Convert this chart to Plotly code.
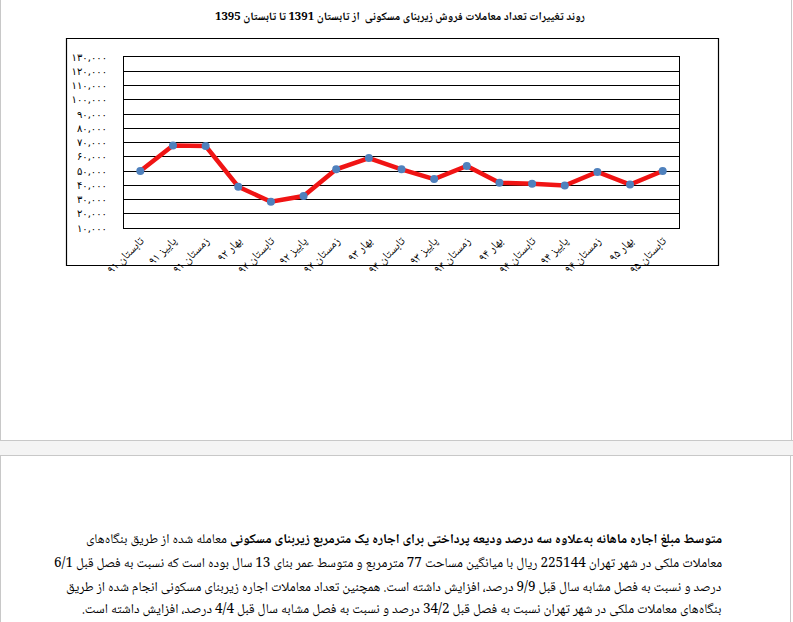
import plotly.graph_objects as go

# ---------------- data ----------------
categories = [
    "تابستان ۹۱", "پاییز ۹۱", "زمستان ۹۱", "بهار ۹۲", "تابستان ۹۲", "پاییز ۹۲",
    "زمستان ۹۲", "بهار ۹۳", "تابستان ۹۳", "پاییز ۹۳", "زمستان ۹۳", "بهار ۹۴",
    "تابستان ۹۴", "پاییز ۹۴", "زمستان ۹۴", "بهار ۹۵", "تابستان ۹۵",
]
transactions = [
    50000, 67900, 67500, 39000, 28400, 32400, 51200, 59100, 51200,
    44300, 53500, 41800, 41100, 39800, 49300, 40500, 50000,
]
y_ticks = [10000, 20000, 30000, 40000, 50000, 60000, 70000,
           80000, 90000, 100000, 110000, 120000, 130000]

title_text = "روند تغییرات تعداد معاملات فروش زیربنای مسکونی  از تابستان 1391 تا تابستان 1395"
paragraph_lines = [
    "<b>متوسط مبلغ اجاره ماهانه به‌علاوه سه درصد ودیعه پرداختی برای اجاره یک مترمربع زیربنای مسکونی</b> معامله شده از طریق بنگاه‌های",
    "معاملات ملکی در شهر تهران 225144 ریال با میانگین مساحت 77 مترمربع و متوسط عمر بنای 13 سال بوده است که نسبت به فصل قبل 6/1",
    "درصد و نسبت به فصل مشابه سال قبل 9/9 درصد، افزایش داشته است. همچنین تعداد معاملات اجاره زیربنای مسکونی انجام شده از طریق",
    "بنگاه‌های معاملات ملکی در شهر تهران نسبت به فصل قبل 34/2 درصد و نسبت به فصل مشابه سال قبل 4/4 درصد، افزایش داشته است.\u200f",
]

FA_DIGITS = str.maketrans("0123456789", "۰۱۲۳۴۵۶۷۸۹")


def fa_num(v):
    return f"{v:,}".translate(FA_DIGITS)


FONT = "Noto Naskh Arabic, Noto Sans Arabic, DejaVu Sans, sans-serif"
TICK_FONT = "DejaVu Sans, sans-serif"

# ---------------- layout geometry (pixels) ----------------
W, H = 793, 622
ML, MR, MT, MB = 124, 114, 57, 394
PW, PH = W - ML - MR, H - MT - MB


def px(xp):
    return (xp - ML) / PW


def py(yp):
    return (H - MB - yp) / PH


fig = go.Figure()
fig.add_trace(go.Scatter(
    x=categories, y=transactions, mode="lines+markers",
    line=dict(color="#f01414", width=4.5),
    marker=dict(color="#4f81bd", size=8),
    showlegend=False, hoverinfo="x+y",
))

shapes = []
gray = "#c8c8c8"
# upper page box
shapes.append(dict(type="line", xref="paper", yref="paper", x0=px(0.5), x1=px(0.5), y0=py(-5), y1=py(440.5), line=dict(color=gray, width=1)))
shapes.append(dict(type="line", xref="paper", yref="paper", x0=px(791.5), x1=px(791.5), y0=py(-5), y1=py(440.5), line=dict(color=gray, width=1)))
# gray band between boxes
shapes.append(dict(type="rect", xref="paper", yref="paper", x0=px(0), x1=px(793), y0=py(441), y1=py(455), fillcolor="#f4f4f4", line=dict(width=0), layer="below"))
shapes.append(dict(type="line", xref="paper", yref="paper", x0=px(0), x1=px(793), y0=py(440.5), y1=py(440.5), line=dict(color=gray, width=1)))
shapes.append(dict(type="line", xref="paper", yref="paper", x0=px(0), x1=px(793), y0=py(455.5), y1=py(455.5), line=dict(color=gray, width=1)))
# lower page box
shapes.append(dict(type="line", xref="paper", yref="paper", x0=px(0.5), x1=px(0.5), y0=py(455.5), y1=py(630), line=dict(color=gray, width=1)))
shapes.append(dict(type="line", xref="paper", yref="paper", x0=px(790.5), x1=px(790.5), y0=py(455.5), y1=py(630), line=dict(color=gray, width=1)))
# chart frame
shapes.append(dict(type="rect", xref="paper", yref="paper", x0=px(66.5), x1=px(718.5), y0=py(265.5), y1=py(38.5), line=dict(color="black", width=1.2), fillcolor="rgba(0,0,0,0)"))

annotations = [dict(
    text="<b>" + title_text + "</b>", x=px(400), y=py(17), xref="paper", yref="paper",
    xanchor="center", yanchor="middle", showarrow=False,
    font=dict(family=FONT, size=11.5, color="black"),
)]
line_y = [540, 564, 588, 610]
for txt, yy in zip(paragraph_lines, line_y):
    annotations.append(dict(
        text=txt, x=px(724), y=py(yy), xref="paper", yref="paper",
        xanchor="right", yanchor="middle", align="right", showarrow=False,
        font=dict(family=FONT, size=13.5, color="black"),
    ))

fig.update_layout(
    width=W, height=H,
    margin=dict(l=ML, r=MR, t=MT, b=MB, pad=0),
    paper_bgcolor="white", plot_bgcolor="white",
    xaxis=dict(
        type="category", tickangle=-45, showgrid=False, ticks="",
        showline=True, mirror=True, linecolor="black", linewidth=1,
        tickfont=dict(family=FONT, size=12, color="black"),
        range=[-0.5, len(categories) - 0.5],
    ),
    yaxis=dict(
        range=[10000, 130000], tickvals=y_ticks,
        ticktext=[fa_num(v) for v in y_ticks],
        showgrid=True, gridcolor="black", gridwidth=1, zeroline=False,
        showline=True, mirror=True, linecolor="black", linewidth=1,
        ticks="", ticklabelstandoff=14,
        tickfont=dict(family=TICK_FONT, size=10, color="black"),
    ),
    shapes=shapes, annotations=annotations,
)

fig.write_html(
    "out.html",
    config={"displayModeBar": False},
    post_script="document.body.style.margin='0';document.body.style.overflow='hidden';",
)
